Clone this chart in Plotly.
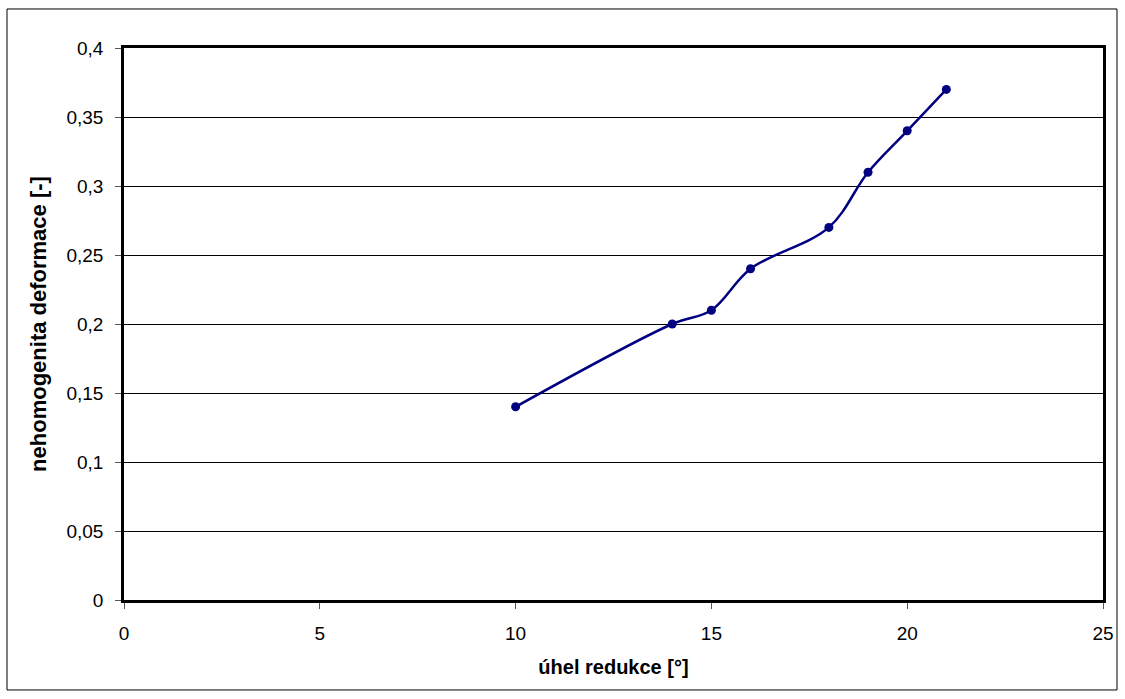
import plotly.graph_objects as go

uhel = [10, 14, 15, 16, 18, 19, 20, 21]
nehomogenita = [0.14, 0.20, 0.21, 0.24, 0.27, 0.31, 0.34, 0.37]

trace = go.Scatter(x=uhel, y=nehomogenita, mode='lines+markers',
                   line=dict(color='#000080', width=2.5, shape='spline', smoothing=1.0),
                   marker=dict(color='#000080', size=9),
                   showlegend=False)

layout = go.Layout(
    width=1125, height=699,
    margin=dict(l=124, r=22, t=48, b=99),
    paper_bgcolor='white', plot_bgcolor='white',
    separators=', ',
    font=dict(family='Liberation Sans, Arial', size=19, color='black'),
    xaxis=dict(range=[0, 25], dtick=5, tick0=0, showgrid=False, zeroline=False,
               showline=True, linecolor='black', linewidth=2.5, mirror=True,
               ticks='outside', ticklen=6, tickcolor='#555', ticklabelstandoff=8,
               title=dict(text='<b>úhel redukce [°]</b>', font=dict(size=20), standoff=18)),
    yaxis=dict(range=[0, 0.4], dtick=0.05, tick0=0, showgrid=True, gridcolor='black',
               gridwidth=1, zeroline=False,
               showline=True, linecolor='black', linewidth=2.5, mirror=True,
               ticks='outside', ticklen=6, tickcolor='#555', ticklabelstandoff=8,
               title=dict(text='<b>nehomogenita deformace [-]</b>', font=dict(size=22), standoff=14)),
    shapes=[dict(type='rect', xref='paper', yref='paper',
                 x0=-0.1195, x1=1.0143, y0=-0.163, y1=1.0707,
                 line=dict(color='black', width=1))]
)

fig = go.Figure(data=[trace], layout=layout)
# drop the default 8px body margin so the figure fills the window exactly
fig.write_html("out.html", config=dict(displayModeBar=False),
               post_script="document.body.style.margin='0';")
